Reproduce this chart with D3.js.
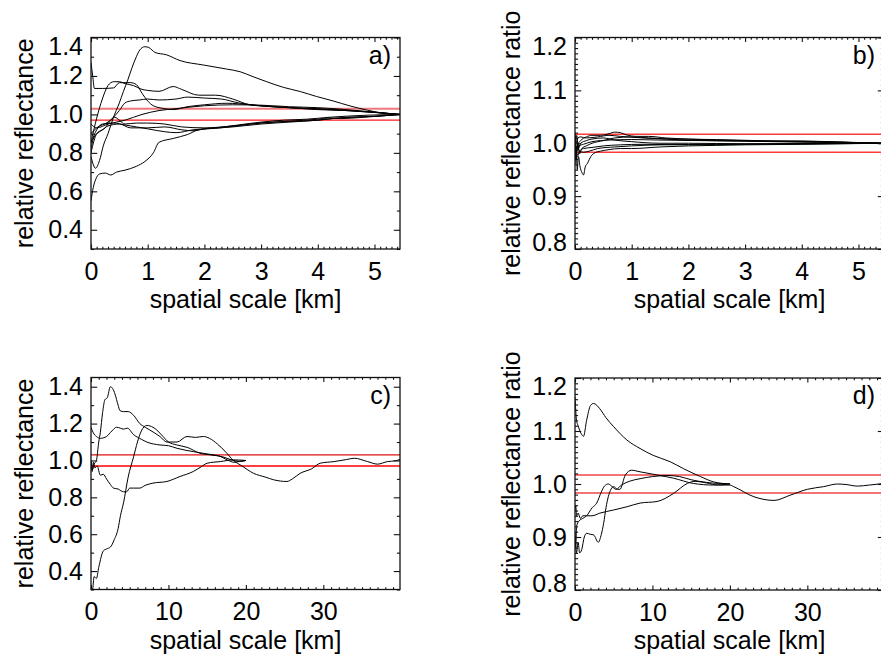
<!DOCTYPE html>
<html>
<head>
<meta charset="utf-8">
<script src="https://cdn.jsdelivr.net/npm/d3@7"></script>
<style>
  body { margin: 0; background: #fff; }
  svg { display: block; }
</style>
</head>
<body>
<svg id="chart" width="881" height="659"></svg>
<script>
// ---- tick labels ----
const xTicksKm = [0, 1, 2, 3, 4, 5];
const xTicksLong = [0, 10, 20, 30];
const yTicksRel = [0.4, 0.6, 0.8, 1.0, 1.2, 1.4];
const yTicksRatio = [0.8, 0.9, 1.0, 1.1, 1.2];

// ---- tolerance bands around unity ----
const bandRel = [0.97, 1.03];
const bandRatio = [0.983, 1.017];

// ---- a) relative reflectance vs spatial scale, short tracks [km, value] ----
const seriesA = [
  [[0,0.78],[0.08,0.72],[0.15,0.76],[0.22,0.84],[0.3,0.9],[0.39,0.98],[0.5,1.06],[0.57,1.118],[0.65,1.18],[0.72,1.24],[0.8,1.3],[0.86,1.335],[0.95,1.352],[1.02,1.348],[1.13,1.322],[1.33,1.31],[1.57,1.28],[1.98,1.257],[2.39,1.236],[2.63,1.222],[2.86,1.196],[3.1,1.17],[3.39,1.141],[3.69,1.119],[3.98,1.093],[4.27,1.07],[4.57,1.044],[4.86,1.023],[5.16,1.006],[5.45,1.0]],
  [[0,1.27],[0.03,1.2],[0.06,1.135],[0.2,1.135],[0.4,1.138],[0.5,1.165],[0.7,1.165],[0.8,1.155],[0.9,1.11],[1.0,1.07],[1.1,1.045],[1.3,1.03],[1.45,1.025],[1.7,1.04],[2.0,1.05],[2.4,1.058],[2.8,1.05],[3.2,1.04],[3.8,1.03],[4.5,1.02],[5.0,1.01],[5.45,1.0]],
  [[0,0.85],[0.05,0.92],[0.1,0.98],[0.2,1.08],[0.3,1.15],[0.4,1.17],[0.5,1.17],[0.6,1.16],[0.75,1.15],[0.9,1.13],[1.0,1.125],[1.2,1.12],[1.45,1.145],[1.6,1.13],[1.9,1.1],[2.2,1.1],[2.5,1.08],[2.8,1.05],[3.2,1.04],[4.0,1.03],[4.6,1.02],[5.45,1.0]],
  [[0,0.9],[0.1,0.93],[0.3,0.96],[0.5,1.02],[0.6,1.06],[0.7,1.07],[0.85,1.075],[1.0,1.08],[1.2,1.075],[1.5,1.08],[1.7,1.09],[2.0,1.085],[2.3,1.08],[2.6,1.06],[3.0,1.045],[3.5,1.035],[4.0,1.025],[4.5,1.02],[5.45,1.0]],
  [[0,0.95],[0.1,0.93],[0.3,0.95],[0.6,0.97],[0.9,1.0],[1.2,1.02],[1.5,1.03],[2.0,1.045],[2.5,1.05],[3.0,1.048],[3.5,1.04],[4.0,1.035],[4.5,1.025],[5.0,1.012],[5.45,1.0]],
  [[0,0.82],[0.05,0.88],[0.15,0.91],[0.25,0.93],[0.35,0.97],[0.42,0.985],[0.5,0.97],[0.6,0.95],[0.8,0.955],[1.0,0.955],[1.3,0.95],[1.6,0.935],[2.0,0.93],[2.5,0.94],[3.0,0.955],[3.5,0.965],[4.0,0.975],[4.2,0.982],[4.4,0.978],[4.8,0.985],[5.45,1.0]],
  [[0,0.8],[0.05,0.86],[0.1,0.9],[0.2,0.92],[0.3,0.94],[0.5,0.95],[0.7,0.93],[1.0,0.93],[1.3,0.935],[1.6,0.92],[1.8,0.915],[2.0,0.925],[2.5,0.935],[3.0,0.95],[3.5,0.96],[4.0,0.97],[4.5,0.985],[5.0,0.99],[5.45,1.0]],
  [[0,0.85],[0.1,0.92],[0.2,0.95],[0.4,0.955],[0.6,0.945],[0.8,0.935],[1.0,0.925],[1.3,0.91],[1.5,0.905],[1.8,0.92],[2.2,0.93],[2.6,0.945],[3.0,0.96],[3.4,0.97],[3.8,0.975],[4.2,0.985],[4.8,0.995],[5.45,1.0]],
  [[0,0.55],[0.04,0.62],[0.08,0.66],[0.15,0.69],[0.25,0.695],[0.35,0.685],[0.45,0.7],[0.6,0.71],[0.8,0.73],[0.95,0.755],[1.1,0.8],[1.2,0.855],[1.45,0.875],[1.7,0.895],[1.9,0.92],[2.3,0.93],[2.8,0.95],[3.2,0.96],[3.7,0.965],[4.0,0.97],[4.3,0.98],[4.6,0.985],[5.0,0.99],[5.45,1.0]]
];

// ---- b) reflectance ratio, short tracks ----
const seriesB = [
  [[0,1.02],[0.03,0.99],[0.06,1.0],[0.1,1.005],[0.2,1.012],[0.3,1.015],[0.45,1.015],[0.6,1.018],[0.7,1.021],[0.8,1.02],[0.9,1.016],[1.1,1.013],[1.3,1.013],[1.6,1.01],[2.0,1.008],[2.5,1.006],[3.0,1.005],[3.5,1.004],[4.0,1.004],[4.5,1.003],[5.0,1.001],[5.45,1.0]],
  [[0,0.96],[0.02,0.99],[0.04,0.95],[0.06,0.975],[0.09,0.955],[0.12,0.945],[0.15,0.94],[0.18,0.955],[0.22,0.962],[0.28,0.975],[0.35,0.982],[0.45,0.985],[0.6,0.988],[0.8,0.99],[1.0,0.99],[1.5,0.993],[2.0,0.995],[2.5,0.996],[3.0,0.997],[4.0,0.998],[5.45,1.0]],
  [[0,1.01],[0.02,0.97],[0.05,1.0],[0.08,0.98],[0.12,0.99],[0.2,0.995],[0.3,1.0],[0.5,1.005],[0.7,1.01],[1.0,1.012],[1.3,1.01],[1.8,1.008],[2.5,1.007],[3.2,1.005],[4.0,1.004],[4.8,1.002],[5.45,1.0]],
  [[0,0.98],[0.03,1.015],[0.06,0.99],[0.1,1.0],[0.2,1.005],[0.3,1.008],[0.5,1.01],[0.7,1.006],[1.0,1.003],[1.5,1.0],[2.0,1.0],[3.0,0.999],[4.0,0.999],[5.45,1.0]],
  [[0,0.99],[0.04,0.975],[0.08,0.985],[0.15,0.99],[0.3,0.992],[0.5,0.995],[0.8,0.997],[1.2,0.998],[2.0,0.997],[3.0,0.998],[4.0,0.999],[5.45,1.0]],
  [[0,1.005],[0.03,0.985],[0.07,0.995],[0.15,0.998],[0.3,1.003],[0.6,1.006],[1.0,1.007],[1.5,1.006],[2.2,1.005],[3.0,1.004],[4.0,1.003],[5.45,1.0]],
  [[0,0.97],[0.03,0.995],[0.08,0.985],[0.15,0.983],[0.25,0.985],[0.4,0.99],[0.7,0.993],[1.0,0.995],[1.5,0.997],[2.5,0.998],[3.5,0.999],[5.45,1.0]],
  [[0,1.015],[0.02,1.0],[0.05,1.01],[0.1,1.012],[0.2,1.01],[0.4,1.012],[0.6,1.015],[0.8,1.013],[1.2,1.01],[2.0,1.006],[3.0,1.004],[4.0,1.002],[5.45,1.0]]
];

// ---- c) relative reflectance, long tracks ----
const seriesC = [
  [[0,0.32],[0.2,0.3],[0.4,0.37],[0.7,0.36],[1.0,0.42],[1.6,0.51],[2.0,0.52],[2.5,0.53],[3.0,0.57],[3.5,0.63],[3.8,0.7],[4.2,0.77],[4.8,0.91],[5.5,1.02],[6.0,1.1],[6.5,1.16],[7.2,1.19],[8.0,1.18],[8.5,1.165],[9.3,1.13],[10,1.1],[11,1.085],[12.5,1.07],[14,1.04],[15.5,1.03],[17,1.02],[18.4,1.0],[19.3,0.995],[20,1.0]],
  [[0,1.0],[0.2,0.95],[0.4,0.98],[0.7,1.0],[1.0,1.1],[1.2,1.15],[1.5,1.26],[1.8,1.33],[2.1,1.34],[2.5,1.4],[2.8,1.39],[3.1,1.36],[3.5,1.3],[3.75,1.27],[4.2,1.265],[4.8,1.265],[5.5,1.245],[6.3,1.2],[7.0,1.18],[7.6,1.165],[8.9,1.13],[9.8,1.1],[11.1,1.1],[12.4,1.13],[13.5,1.125],[14.5,1.13],[15.3,1.12],[16.3,1.09],[17.3,1.05],[18.4,1.0],[19.5,0.97],[21,0.93],[22.5,0.91],[23.6,0.895],[25.3,0.886],[26,0.9],[27,0.93],[28.5,0.955],[29.6,0.985],[31.4,0.994],[33,1.005],[34,1.012],[35.7,0.994],[37,0.98],[38.3,0.994],[39.3,0.998],[39.9,1.006]],
  [[0,1.18],[0.3,1.15],[0.7,1.13],[1.2,1.12],[2.0,1.13],[2.7,1.16],[3.3,1.18],[3.8,1.175],[4.2,1.17],[4.7,1.175],[5.5,1.14],[6.5,1.115],[7.2,1.1],[8.9,1.084],[10,1.08],[11.1,1.066],[13.2,1.048],[15.8,1.03],[16.5,1.025],[17.6,1.003],[18.5,0.99],[19.2,0.995],[20,1.0]],
  [[0,1.0],[0.15,0.94],[0.3,0.99],[0.5,0.96],[0.8,0.97],[1.2,0.92],[1.6,0.925],[2.0,0.9],[2.5,0.87],[2.9,0.85],[3.5,0.845],[4.2,0.83],[4.6,0.83],[5.0,0.85],[5.5,0.85],[6.3,0.85],[7.0,0.865],[8.0,0.877],[9.8,0.886],[11.5,0.913],[13.2,0.94],[14.2,0.965],[15,0.985],[16.7,0.994],[18.4,1.003],[20,1.0]]
];

// ---- d) reflectance ratio, long tracks ----
const seriesD = [
  [[0,1.165],[0.2,1.12],[0.4,1.11],[0.8,1.095],[1.1,1.09],[1.5,1.12],[2.0,1.148],[2.4,1.152],[3.2,1.142],[4.0,1.125],[5.0,1.108],[6.7,1.083],[8.4,1.067],[10.1,1.054],[12.3,1.042],[14,1.029],[16.2,1.014],[17.9,1.004],[20,1.0]],
  [[0,0.95],[0.1,0.96],[0.2,0.94],[0.4,0.945],[0.7,0.935],[1.0,0.94],[1.5,0.94],[2.2,0.94],[3.2,0.945],[5.0,0.951],[6.7,0.957],[8.4,0.964],[10.6,0.967],[12.7,0.982],[14.5,1.001],[15.5,1.005],[17,1.002],[18.5,0.998],[20,0.998],[20.5,0.995],[23.1,0.976],[25.7,0.969],[27.8,0.979],[30,0.99],[32.1,0.995],[33.9,1.0],[35,0.999],[36.5,0.996],[38,0.998],[39.9,1.001]],
  [[0,0.91],[0.2,0.87],[0.4,0.89],[0.6,0.87],[0.86,0.876],[1.2,0.9],[1.5,0.907],[2.0,0.905],[2.4,0.904],[3.0,0.89],[3.4,0.905],[3.7,0.926],[4.0,0.955],[4.3,0.976],[5.0,0.995],[5.5,0.99],[5.8,0.99],[6.5,1.017],[7.3,1.026],[8.4,1.023],[10.6,1.017],[12.7,1.011],[15.3,1.001],[17.9,0.998],[20,1.0]],
  [[0,0.9],[0.1,0.88],[0.2,0.92],[0.5,0.93],[1.0,0.935],[1.5,0.94],[2.2,0.955],[2.8,0.964],[3.4,0.985],[3.8,0.996],[4.3,1.0],[4.8,0.995],[5.3,0.99],[6.0,0.998],[7.0,1.005],[8.4,1.01],[10,1.014],[12,1.016],[13.5,1.014],[15,1.008],[17,1.003],[18.5,1.001],[20,1.0]]
];

// ---- layout of the four panels ----
const FONT = '"Liberation Sans", Arial, Helvetica, sans-serif';
const FS = 25;
const panels = [
  { key: "a", series: seriesA, band: bandRel, left: 91, top: 37.5, width: 309, height: 211.5,
    xDomain: [0, 5.45], yDomain: [0.3, 1.4], xTicks: xTicksKm, yTicks: yTicksRel,
    xMinor: 0.1, yMinor: 0.1, label: "a)", title: "relative reflectance", titleX: 33,
    bandColors: ["#f07a7a", "#ff1a1a"], bandWidths: [2, 1.3] },
  { key: "b", series: seriesB, band: bandRatio, left: 575, top: 37.5, width: 309, height: 211.5,
    xDomain: [0, 5.45], yDomain: [0.8, 1.2], xTicks: xTicksKm, yTicks: yTicksRatio,
    xMinor: 0.1, yMinor: 0.01, label: "b)", title: "relative reflectance ratio", titleX: 520,
    bandColors: ["#ff3a3a", "#ff3a3a"], bandWidths: [1.6, 1.6] },
  { key: "c", series: seriesC, band: bandRel, left: 91, top: 377.5, width: 309, height: 212,
    xDomain: [0, 39.9], yDomain: [0.3, 1.45], xTicks: xTicksLong, yTicks: yTicksRel,
    xMinor: 1, yMinor: 0.1, label: "c)", title: "relative reflectance", titleX: 33,
    bandColors: ["#e01010", "#ff0000"], bandWidths: [1.2, 1.4] },
  { key: "d", series: seriesD, band: bandRatio, left: 575, top: 378, width: 309, height: 212,
    xDomain: [0, 39.9], yDomain: [0.8, 1.2], xTicks: xTicksLong, yTicks: yTicksRatio,
    xMinor: 1, yMinor: 0.01, label: "d)", title: "relative reflectance ratio", titleX: 520,
    bandColors: ["#f27474", "#f27474"], bandWidths: [2, 2] }
];

const svg = d3.select("#chart");
svg.append("rect").attr("width", 881).attr("height", 659).attr("fill", "#fff");
const defs = svg.append("defs");

function minorValues(domain, step, majors) {
  const n = Math.floor((domain[1] - domain[0]) / step + 1e-6);
  const out = [];
  for (let i = 0; i <= n; i++) {
    const v = +(domain[0] + i * step).toFixed(6);
    if (!majors.some(m => Math.abs(m - v) < step / 10)) out.push(v);
  }
  return out;
}

function styleAxis(g) {
  g.select(".domain").remove();
  g.selectAll(".tick line").attr("stroke", "#111").attr("stroke-width", 1.1);
  g.attr("font-family", FONT).attr("font-size", FS);
  g.selectAll("text").attr("fill", "#000");
}

panels.forEach(p => {
  const bottom = p.top + p.height;
  const right = p.left + p.width;
  const x = d3.scaleLinear().domain(p.xDomain).range([p.left, right]);
  const y = d3.scaleLinear().domain(p.yDomain).range([bottom, p.top]);

  defs.append("clipPath").attr("id", "clip-" + p.key)
    .append("rect").attr("x", p.left).attr("y", p.top).attr("width", p.width).attr("height", p.height);

  const plot = svg.append("g").attr("clip-path", `url(#clip-${p.key})`);

  // tolerance band lines
  plot.selectAll("line.band").data(p.band).join("line")
    .attr("class", "band")
    .attr("x1", p.left).attr("x2", right)
    .attr("y1", d => y(d)).attr("y2", d => y(d))
    .attr("stroke", (d, i) => p.bandColors[p.band.length - 1 - i])
    .attr("stroke-width", (d, i) => p.bandWidths[p.band.length - 1 - i]);

  // curves
  const line = d3.line().x(d => x(d[0])).y(d => y(d[1])).curve(d3.curveMonotoneX);
  plot.selectAll("path.curve").data(p.series).join("path")
    .attr("class", "curve")
    .attr("d", line)
    .attr("fill", "none")
    .attr("stroke", "#000")
    .attr("stroke-width", 1)
    .attr("stroke-linejoin", "round");

  // minor ticks on all four sides
  const xm = minorValues(p.xDomain, p.xMinor, p.xTicks);
  const ym = minorValues(p.yDomain, p.yMinor, p.yTicks);
  const xMajLen = 4.5, xMinLen = 2.3, yMajLen = 6.2, yMinLen = 3.1;

  svg.append("g").attr("transform", `translate(0,${bottom})`)
    .call(d3.axisBottom(x).tickValues(xm).tickSize(-xMinLen).tickFormat("")).call(styleAxis);
  svg.append("g").attr("transform", `translate(0,${p.top})`)
    .call(d3.axisTop(x).tickValues(xm).tickSize(-xMinLen).tickFormat("")).call(styleAxis);
  svg.append("g").attr("transform", `translate(${p.left},0)`)
    .call(d3.axisLeft(y).tickValues(ym).tickSize(-yMinLen).tickFormat("")).call(styleAxis);
  svg.append("g").attr("transform", `translate(${right},0)`)
    .call(d3.axisRight(y).tickValues(ym).tickSize(-yMinLen).tickFormat("")).call(styleAxis);

  // major ticks with labels
  svg.append("g").attr("transform", `translate(0,${bottom})`)
    .call(d3.axisBottom(x).tickValues(p.xTicks).tickSize(-xMajLen).tickPadding(13).tickFormat(d3.format("d")))
    .call(styleAxis);
  svg.append("g").attr("transform", `translate(0,${p.top})`)
    .call(d3.axisTop(x).tickValues(p.xTicks).tickSize(-xMajLen).tickFormat("")).call(styleAxis);
  const gl = svg.append("g").attr("transform", `translate(${p.left},0)`)
    .call(d3.axisLeft(y).tickValues(p.yTicks).tickSize(-yMajLen).tickPadding(8).tickFormat(d3.format(".1f")))
    .call(styleAxis);
  // keep end labels inside the vertical extent of the frame
  gl.selectAll(".tick text").attr("y", d => {
    const c = y(d);
    const cc = Math.min(Math.max(c, p.top + 8.5), bottom - 6.5);
    return cc - c;
  });
  svg.append("g").attr("transform", `translate(${right},0)`)
    .call(d3.axisRight(y).tickValues(p.yTicks).tickSize(-yMajLen).tickFormat("")).call(styleAxis);

  // frame
  svg.append("rect")
    .attr("x", p.left).attr("y", p.top).attr("width", p.width).attr("height", p.height)
    .attr("fill", "none").attr("stroke", "#111").attr("stroke-width", 1.3);

  // titles and panel letter
  svg.append("text")
    .attr("x", (p.left + right) / 2).attr("y", bottom + 59)
    .attr("text-anchor", "middle").attr("font-family", FONT).attr("font-size", FS)
    .text("spatial scale [km]");
  svg.append("text")
    .attr("transform", `translate(${p.titleX},${(p.top + bottom) / 2}) rotate(-90)`)
    .attr("text-anchor", "middle").attr("font-family", FONT).attr("font-size", FS)
    .text(p.title);
  svg.append("text")
    .attr("x", right - 9).attr("y", p.top + 26)
    .attr("text-anchor", "end").attr("font-family", FONT).attr("font-size", FS)
    .text(p.label);
});
</script>
</body>
</html>
